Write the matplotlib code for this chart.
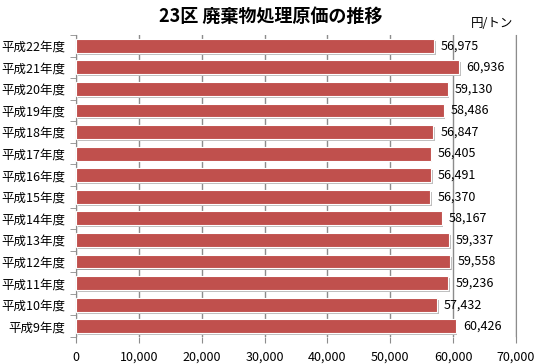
import numpy as np
import matplotlib.pyplot as plt
from matplotlib.ticker import FuncFormatter, FixedLocator

plt.rcParams['font.family'] = ['Noto Sans CJK JP', 'DejaVu Sans']

# data, top to bottom as in the chart
years = ['平成22年度', '平成21年度', '平成20年度', '平成19年度', '平成18年度',
         '平成17年度', '平成16年度', '平成15年度', '平成14年度', '平成13年度',
         '平成12年度', '平成11年度', '平成10年度', '平成9年度']
costs = [56975, 60936, 59130, 58486, 56847, 56405, 56491, 56370,
         58167, 59337, 59558, 59236, 57432, 60426]
x_ticks = [0, 10000, 20000, 30000, 40000, 50000, 60000, 70000]

bar_color = '#C0504D'
grid_color = '#8C8C8C'

fig = plt.figure(figsize=(5.41, 3.64), dpi=100)
ax = fig.add_axes([0.1405, 0.074, 0.8135, 0.83])

y = np.arange(len(years))
h = 0.64

# soft shadow under each bar
ax.barh(y + 0.09, costs, height=h, left=250, color='#BDBDBD', zorder=2)
ax.barh(y + 0.05, costs, height=h, left=120, color='#9E9E9E', zorder=2)
ax.barh(y, costs, height=h, color=bar_color, edgecolor='white', linewidth=0.8, zorder=3)

for yi, v in zip(y, costs):
    ax.text(v + 1100, yi, f'{v:,}', va='center', ha='left', fontsize=9, zorder=4)

ax.set_xlim(0, 70000)
ax.set_ylim(len(years) - 0.5, -0.5)
ax.xaxis.set_major_locator(FixedLocator(x_ticks))
ax.xaxis.set_major_formatter(FuncFormatter(lambda v, p: f'{int(v):,}'))
ax.set_yticks(y)
ax.set_yticklabels(years)
ax.set_yticks(np.arange(-0.5, len(years), 1), minor=True)

ax.grid(axis='x', color=grid_color, linewidth=1.0, zorder=1)
ax.tick_params(axis='y', which='major', length=0, labelsize=9, pad=8)
ax.tick_params(axis='y', which='minor', length=4, color=grid_color, direction='out')
ax.tick_params(axis='x', length=4, color=grid_color, labelsize=9, pad=6)

ax.spines['top'].set_visible(False)
ax.spines['bottom'].set_visible(False)
ax.spines['left'].set_color(grid_color)
ax.spines['right'].set_color(grid_color)

fig.text(0.5, 0.955, '23区 廃棄物処理原価の推移', ha='center', va='center',
         fontsize=13, fontweight='bold')
fig.text(0.91, 0.935, '円/トン', ha='center', va='center', fontsize=9)

fig.savefig('out.png', dpi=100)
